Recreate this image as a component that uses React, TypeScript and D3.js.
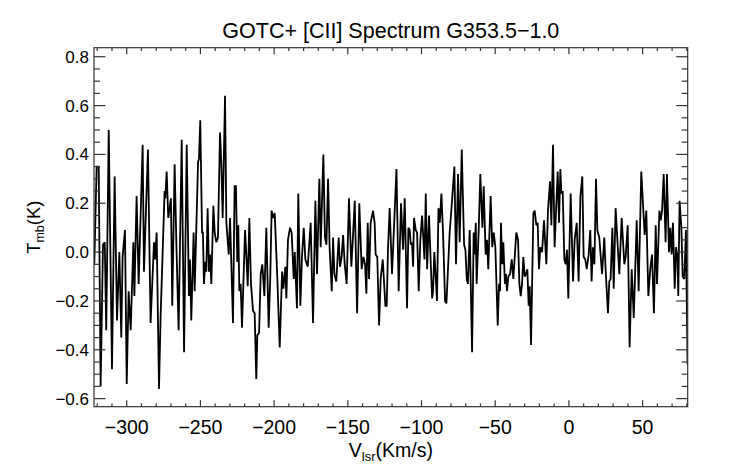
import { useEffect, useRef } from 'react';
import * as d3 from 'd3';

// velocity channels (km/s) and main-beam temperature (K)
const velocity = [
  -322.0, -320.4, -319.0, -317.7, -316.1, -314.9, -313.9, -312.2, -310.0, -308.2,
  -306.6, -305.0, -303.7, -302.8, -301.2, -300.0, -298.7, -297.3, -295.5, -294.8,
  -293.3, -291.9, -289.2, -288.3, -285.6, -283.8, -281.5, -280.8, -279.7, -278.1,
  -277.0, -274.3, -273.8, -272.9, -271.8, -270.0, -269.1, -267.5, -266.3, -264.8,
  -262.7, -261.1, -259.3, -257.8, -257.1, -256.2, -254.6, -253.9, -251.6, -251.0,
  -250.1, -248.9, -248.3, -247.6, -246.7, -246.0, -245.1, -244.2, -243.5, -242.6,
  -241.2, -240.3, -239.2, -238.1, -236.7, -235.8, -234.9, -233.3, -232.4, -230.8,
  -229.9, -227.9, -226.8, -225.9, -225.0, -224.3, -223.6, -222.7, -221.8, -219.7,
  -218.8, -217.9, -216.8, -215.7, -214.3, -213.2, -212.1, -211.4, -210.2, -209.1,
  -208.0, -206.6, -205.3, -203.7, -202.6, -201.7, -200.7, -199.6, -197.8, -196.2,
  -194.6, -193.7, -192.4, -191.7, -190.6, -189.2, -188.1, -186.7, -186.0, -184.5,
  -183.6, -182.2, -181.1, -179.9, -178.8, -177.2, -175.2, -173.6, -172.0, -170.9,
  -169.3, -168.4, -167.5, -166.6, -165.5, -164.5, -163.4, -162.3, -160.9, -160.0,
  -159.1, -157.8, -156.2, -155.3, -154.2, -153.2, -152.1, -150.8, -149.2, -147.6,
  -146.7, -145.3, -143.7, -142.2, -140.6, -139.4, -138.3, -137.4, -136.5, -135.6,
  -134.5, -132.9, -131.8, -131.1, -130.0, -128.8, -127.7, -126.3, -124.5, -123.6,
  -122.7, -121.6, -120.0, -117.0, -115.5, -113.9, -112.5, -111.4, -109.8, -108.9,
  -108.0, -107.3, -106.4, -105.7, -105.1, -103.9, -103.0, -101.9, -100.8, -99.6,
  -98.0, -97.1, -96.2, -94.9, -93.7, -92.8, -92.2, -91.3, -89.5, -88.5,
  -87.6, -86.5, -85.4, -84.0, -83.1, -80.9, -79.3, -77.7, -76.6, -75.2,
  -74.1, -72.7, -71.1, -70.2, -69.3, -68.5, -67.3, -65.7, -64.6, -63.9,
  -63.2, -62.6, -61.2, -60.1, -58.7, -57.8, -56.5, -55.6, -54.7, -53.1,
  -52.0, -51.0, -49.9, -48.3, -47.4, -46.7, -46.1, -45.2, -44.5, -43.4,
  -42.7, -42.0, -41.1, -39.9, -38.8, -37.7, -35.7, -34.5, -33.6, -32.7,
  -31.8, -30.9, -30.0, -29.1, -28.2, -27.3, -26.6, -25.7, -24.1, -23.2,
  -22.1, -21.2, -20.3, -19.4, -18.2, -16.9, -15.3, -14.2, -12.8, -11.9,
  -10.8, -9.7, -8.5, -7.6, -6.7, -5.8, -5.1, -4.2, -3.1, -2.2,
  -1.3, -0.4, 1.2, 2.8, 3.9, 5.3, 6.6, 7.8, 9.1, 10.0,
  11.1, 12.1, 13.4, 14.5, 15.4, 16.3, 17.3, 18.4, 19.3, 20.6,
  22.5, 24.0, 24.9, 26.5, 27.4, 28.3, 29.5, 30.4, 31.7, 32.9,
  34.2, 35.8, 37.6, 38.5, 39.9, 41.2, 42.6, 44.0, 46.0, 47.3,
  49.1, 50.5, 51.4, 52.5, 53.9, 55.2, 56.4, 57.7, 58.9, 59.8,
  61.4, 62.3, 63.2, 64.3, 65.6, 66.5, 67.9, 68.8, 69.7, 70.6,
  71.8, 72.7, 73.6, 74.2, 75.1, 76.3, 77.2, 78.3, 79.4, 80.5,
];

const tmb = [
  -0.05, 0.35, 0.35, -0.55, 0.03, 0.04, -0.32, 0.50, -0.48, 0.31,
  -0.28, 0.00, -0.35, -0.02, 0.09, -0.54, -0.16, -0.32, 0.04, -0.18,
  0.23, -0.13, 0.44, -0.08, 0.42, -0.29, 0.04, -0.03, 0.08, -0.56,
  -0.26, 0.25, 0.22, 0.33, 0.14, 0.22, -0.22, 0.36, 0.03, -0.32,
  0.46, -0.41, 0.44, -0.18, -0.03, -0.28, 0.08, -0.16, 0.37, 0.38,
  0.54, 0.08, 0.08, -0.13, -0.04, -0.08, 0.18, -0.08, -0.01, -0.13,
  0.19, 0.08, 0.04, 0.06, 0.49, 0.36, 0.14, 0.64, 0.12, -0.01,
  0.14, -0.29, 0.27, 0.27, -0.04, 0.11, -0.16, -0.13, -0.31, 0.09,
  -0.02, -0.14, 0.14, -0.13, -0.24, -0.25, -0.52, -0.34, -0.33, -0.09,
  -0.05, -0.18, 0.10, -0.31, -0.10, 0.17, 0.14, 0.16, -0.11, -0.39,
  -0.08, -0.15, -0.06, -0.19, 0.05, 0.10, 0.08, -0.11, 0.00, -0.23,
  0.24, -0.22, -0.02, 0.10, -0.03, -0.06, 0.12, -0.29, 0.21, -0.09,
  0.30, 0.02, 0.21, 0.40, 0.06, 0.03, 0.30, 0.01, -0.16, 0.06,
  -0.09, -0.12, 0.06, -0.06, -0.02, 0.07, -0.05, -0.13, 0.22, -0.06,
  0.04, 0.21, -0.25, 0.20, -0.07, -0.02, -0.05, -0.17, 0.12, -0.11,
  0.12, 0.17, 0.12, -0.01, -0.02, -0.30, -0.11, -0.03, -0.22, -0.22,
  0.02, 0.18, -0.09, 0.34, -0.16, 0.20, 0.01, 0.22, -0.23, 0.10,
  0.09, 0.03, 0.04, -0.06, 0.14, 0.09, 0.08, -0.16, 0.05, 0.15,
  -0.03, 0.24, -0.07, 0.15, -0.05, -0.19, -0.16, 0.00, -0.20, 0.18,
  0.12, 0.24, 0.08, -0.20, -0.21, 0.08, 0.21, 0.35, -0.05, 0.32,
  0.04, 0.42, 0.03, 0.01, -0.11, -0.13, 0.09, -0.41, 0.08, -0.01,
  0.12, -0.13, 0.09, 0.32, 0.10, 0.27, -0.01, 0.05, -0.07, 0.23,
  0.02, 0.08, 0.02, -0.30, -0.13, -0.16, 0.12, -0.05, 0.04, -0.13,
  -0.09, -0.16, -0.10, -0.09, -0.03, -0.11, 0.08, 0.05, -0.13, -0.18,
  -0.13, -0.02, -0.10, -0.09, -0.07, -0.22, -0.14, -0.38, 0.16, 0.17,
  0.11, 0.12, -0.07, 0.02, 0.00, 0.13, -0.05, 0.17, 0.29, 0.11,
  0.44, 0.02, 0.20, 0.33, 0.12, 0.34, 0.24, 0.25, -0.03, -0.05,
  0.01, -0.19, 0.24, -0.12, 0.05, 0.12, -0.12, 0.23, 0.31, -0.02,
  -0.03, -0.07, -0.01, 0.09, -0.12, 0.02, -0.05, 0.30, 0.09, 0.06,
  -0.09, 0.06, -0.07, -0.25, -0.12, -0.11, 0.10, -0.15, 0.18, 0.05,
  -0.09, 0.14, -0.05, -0.02, 0.11, -0.39, -0.07, -0.27, 0.13, -0.16,
  0.33, 0.17, 0.07, 0.17, -0.18, -0.07, -0.01, -0.25, 0.11, -0.13,
  0.17, 0.13, 0.17, 0.32, 0.04, 0.32, 0.00, 0.10, -0.01, 0.12,
  -0.15, 0.02, -0.02, -0.18, 0.21, 0.10, -0.10, -0.11, 0.09, -0.46,
];

const xTicks = [-300, -250, -200, -150, -100, -50, 0, 50];
const xTickLabels = ['\u2212300', '\u2212250', '\u2212200', '\u2212150', '\u2212100', '\u221250', '0', '50'];
const yTicks = [-0.6, -0.4, -0.2, 0.0, 0.2, 0.4, 0.6, 0.8];
const yTickLabels = ['\u22120.6', '\u22120.4', '\u22120.2', '0.0', '0.2', '0.4', '0.6', '0.8'];

const WIDTH = 742;
const HEIGHT = 464;
const FONT = '"Liberation Sans", Arial, Helvetica, sans-serif';
const AXIS = '#333';

export default function App() {
  const svgRef = useRef<SVGSVGElement>(null);

  useEffect(() => {
    if (!svgRef.current) return;
    const svg = d3.select(svgRef.current);
    svg.selectAll('*').remove();

    const left = 94, right = 687.7, top = 47.7, bottom = 406.7;

    const x = d3.scaleLinear().domain([-322.2, 80.6]).range([left, right]);
    const y = d3.scaleLinear().domain([-0.633, 0.837]).range([bottom, top]);

    svg.append('defs').append('clipPath').attr('id', 'plot-clip')
      .append('rect')
      .attr('x', left).attr('y', top)
      .attr('width', right - left).attr('height', bottom - top);

    // spectrum
    const line = d3.line<number>()
      .x((_, i) => x(velocity[i]))
      .y((d) => y(d));

    svg.append('path')
      .datum(tmb)
      .attr('clip-path', 'url(#plot-clip)')
      .attr('d', line)
      .attr('fill', 'none')
      .attr('stroke', '#000')
      .attr('stroke-width', 1.8)
      .attr('stroke-miterlimit', 3);

    // frame
    svg.append('rect')
      .attr('x', left).attr('y', top)
      .attr('width', right - left).attr('height', bottom - top)
      .attr('fill', 'none')
      .attr('stroke', AXIS)
      .attr('stroke-width', 1.2);

    const ticks = svg.append('g').attr('stroke', AXIS).attr('stroke-width', 1.2);

    // x ticks, top and bottom, inward
    const xMinor = d3.range(-320, 81, 10).filter((v) => x(v) <= right);
    xMinor.forEach((v) => {
      const major = v % 50 === 0;
      const len = major ? 6.5 : 3.3;
      ticks.append('line').attr('x1', x(v)).attr('x2', x(v)).attr('y1', bottom).attr('y2', bottom - len);
      ticks.append('line').attr('x1', x(v)).attr('x2', x(v)).attr('y1', top).attr('y2', top + len);
    });

    // y ticks, left and right, inward
    const yMinor = d3.range(-12, 17).map((k) => k * 0.05);
    yMinor.forEach((v, k) => {
      const major = (k % 4) === 0;
      const len = major ? 11.5 : 6;
      ticks.append('line').attr('x1', left).attr('x2', left + len).attr('y1', y(v)).attr('y2', y(v));
      ticks.append('line').attr('x1', right).attr('x2', right - len).attr('y1', y(v)).attr('y2', y(v));
    });

    // tick labels
    xTicks.forEach((v, i) => {
      svg.append('text')
        .attr('x', x(v))
        .attr('y', 434)
        .attr('text-anchor', 'middle')
        .attr('font-family', FONT)
        .attr('font-size', '19.5px')
        .attr('fill', '#000')
        .text(xTickLabels[i]);
    });

    yTicks.forEach((v, i) => {
      svg.append('text')
        .attr('x', 89)
        .attr('y', y(v) + 6)
        .attr('text-anchor', 'end')
        .attr('font-family', FONT)
        .attr('font-size', '17px')
        .attr('fill', '#000')
        .text(yTickLabels[i]);
    });

    // title
    svg.append('text')
      .attr('x', (left + right) / 2)
      .attr('y', 38)
      .attr('text-anchor', 'middle')
      .attr('font-family', FONT)
      .attr('font-size', '21.5px')
      .attr('fill', '#000')
      .text('GOTC+ [CII] Spectrum G353.5\u22121.0');

    // x axis title
    const xt = svg.append('text')
      .attr('x', (left + right) / 2)
      .attr('y', 457)
      .attr('text-anchor', 'middle')
      .attr('font-family', FONT)
      .attr('font-size', '19.5px')
      .attr('fill', '#000');
    xt.append('tspan').text('V');
    xt.append('tspan').attr('font-size', '13px').attr('dy', 4).text('lsr');
    xt.append('tspan').attr('dy', -4).text('(Km/s)');

    // y axis title
    const yt = svg.append('text')
      .attr('transform', `translate(40,${(top + bottom) / 2}) rotate(-90)`)
      .attr('text-anchor', 'middle')
      .attr('font-family', FONT)
      .attr('font-size', '18.5px')
      .attr('fill', '#000');
    yt.append('tspan').text('T');
    yt.append('tspan').attr('font-size', '12.5px').attr('dy', 4).text('mb');
    yt.append('tspan').attr('dy', -4).text('(K)');
  }, []);

  return (
    <svg
      ref={svgRef}
      width={WIDTH}
      height={HEIGHT}
      style={{ position: 'absolute', left: 0, top: 0, background: '#fff' }}
    />
  );
}
